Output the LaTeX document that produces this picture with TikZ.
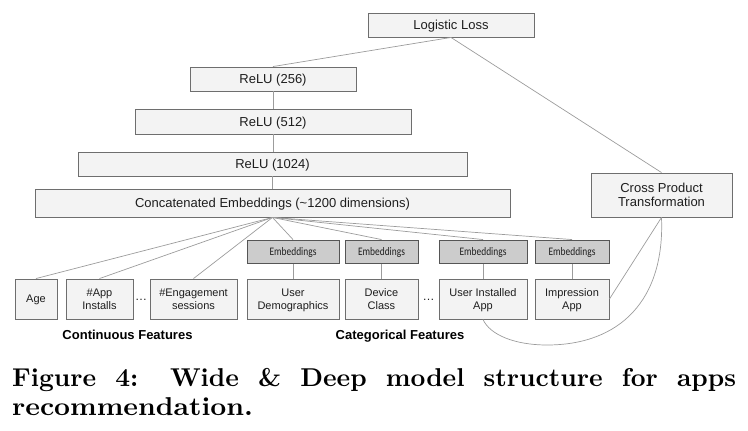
\documentclass[tikz,border=0pt]{standalone}
\usepackage{fontspec}
\newfontfamily\arialf{Liberation Sans}
\newfontfamily\calibf{Carlito}
\definecolor{boxfill}{HTML}{F3F3F3}
\definecolor{boxdraw}{HTML}{6E6E6E}
\definecolor{embfill}{HTML}{CCCCCC}
\definecolor{embdraw}{HTML}{555555}
\definecolor{wire}{HTML}{9C9C9C}
\definecolor{txt}{HTML}{1E1E1E}
\begin{document}
\begin{tikzpicture}[x=1pt,y=-1pt,
 box/.style={draw=boxdraw,fill=boxfill,line width=0.9pt,inner sep=0pt,
   font=\arialf\fontsize{13}{14.3}\selectfont,text=txt,align=center,text depth=0pt},
 feat/.style={box,font=\arialf\fontsize{11}{12.7}\selectfont,minimum height=40pt},
 emb/.style={draw=embdraw,fill=embfill,line width=0.9pt,inner sep=0pt,text depth=0pt,
   minimum height=23.5pt,font=\calibf\fontsize{11.5}{12}\selectfont,text=txt},
 wirel/.style={draw=wire,line width=0.7pt},
 lbl/.style={font=\arialf\bfseries\fontsize{13}{14}\selectfont,inner sep=0pt,anchor=base},
 dotsn/.style={font=\arialf\fontsize{12}{12}\selectfont,inner sep=0pt,anchor=base,text=txt}
]
\useasboundingbox (0,0) rectangle (748,431);

% top stack
\node[box,minimum width=166pt,minimum height=24pt] (loss) at (451,25) {Logistic Loss};
\node[box,minimum width=166pt,minimum height=24pt] (r256) at (273,79) {ReLU (256)};
\node[box,minimum width=276pt,minimum height=25pt] (r512) at (273,121.5) {ReLU (512)};
\node[box,minimum width=389pt,minimum height=24pt] (r1024) at (272.5,164) {ReLU (1024)};
\node[box,minimum width=475pt,minimum height=28pt] (concat) at (272.5,203) {Concatenated Embeddings (\textasciitilde1200 dimensions)};
\node[box,minimum width=141pt,minimum height=44pt] (cross) at (661.5,195) {Cross Product\\Transformation};

% feature boxes
\node[feat,minimum width=42pt] (age) at (36,299) {Age};
\node[feat,minimum width=67pt] (appinst) at (99.5,299) {\#App\\Installs};
\node[feat,minimum width=87pt] (engage) at (193.5,299) {\#Engagement\\sessions};
\node[feat,minimum width=92pt] (userdemo) at (293,299) {User\\Demographics};
\node[feat,minimum width=73pt] (device) at (381.5,299) {Device\\Class};
\node[feat,minimum width=88pt] (uia) at (483,299) {User Installed\\App};
\node[feat,minimum width=74pt] (imp) at (572,299) {Impression\\App};

% embeddings
\node[emb,minimum width=92pt] (emb1) at (293,251.75) {\scalebox{0.82}[1]{Embeddings}};
\node[emb,minimum width=73pt] (emb2) at (381.5,251.75) {\scalebox{0.82}[1]{Embeddings}};
\node[emb,minimum width=88pt] (emb3) at (483,251.75) {\scalebox{0.82}[1]{Embeddings}};
\node[emb,minimum width=74pt] (emb4) at (572,251.75) {\scalebox{0.82}[1]{Embeddings}};

% dots and labels
\node[dotsn] (dots1) at (141,300) {…};
\node[dotsn] (dots2) at (428.5,300) {…};
\node[lbl] (contlbl) at (127.5,339) {Continuous Features};
\node[lbl] (catlbl) at (400,339) {Categorical Features};

% connectors
\draw[wirel] (loss.south) -- (r256.north);
\draw[wirel] (loss.south) -- (cross.north);
\draw[wirel] (r256.south) -- (r512.north);
\draw[wirel] (r512.south) -- (r512.south |- r1024.north);
\draw[wirel] (r1024.south) -- (concat.north);
\foreach \t in {age,appinst,engage,emb1,emb2,emb3,emb4}
  \draw[wirel] (concat.south) -- (\t.north);
\draw[wirel] (emb1.south) -- (userdemo.north);
\draw[wirel] (emb2.south) -- (device.north);
\draw[wirel] (emb3.south) -- (uia.north);
\draw[wirel] (emb4.south) -- (imp.north);
\draw[wirel] (cross.south) -- (imp.east);
\coordinate (cbot) at (547,345);
\draw[wirel] (cross.south) .. controls (665,300) and (620,345) .. (cbot)
  .. controls (515,345) and (490,335) .. (uia.south);

% caption
\node[anchor=base west,inner sep=0pt] (cap1) at (12,386)
  {\scalebox{2.58}{\bfseries\makebox[280.6pt][s]{Figure 4: Wide \& Deep model structure for apps}}};
\node[anchor=base west,inner sep=0pt] (cap2) at (12,415.5)
  {\scalebox{2.78}[2.58]{\bfseries recommendation.}};
\end{tikzpicture}
\end{document}
